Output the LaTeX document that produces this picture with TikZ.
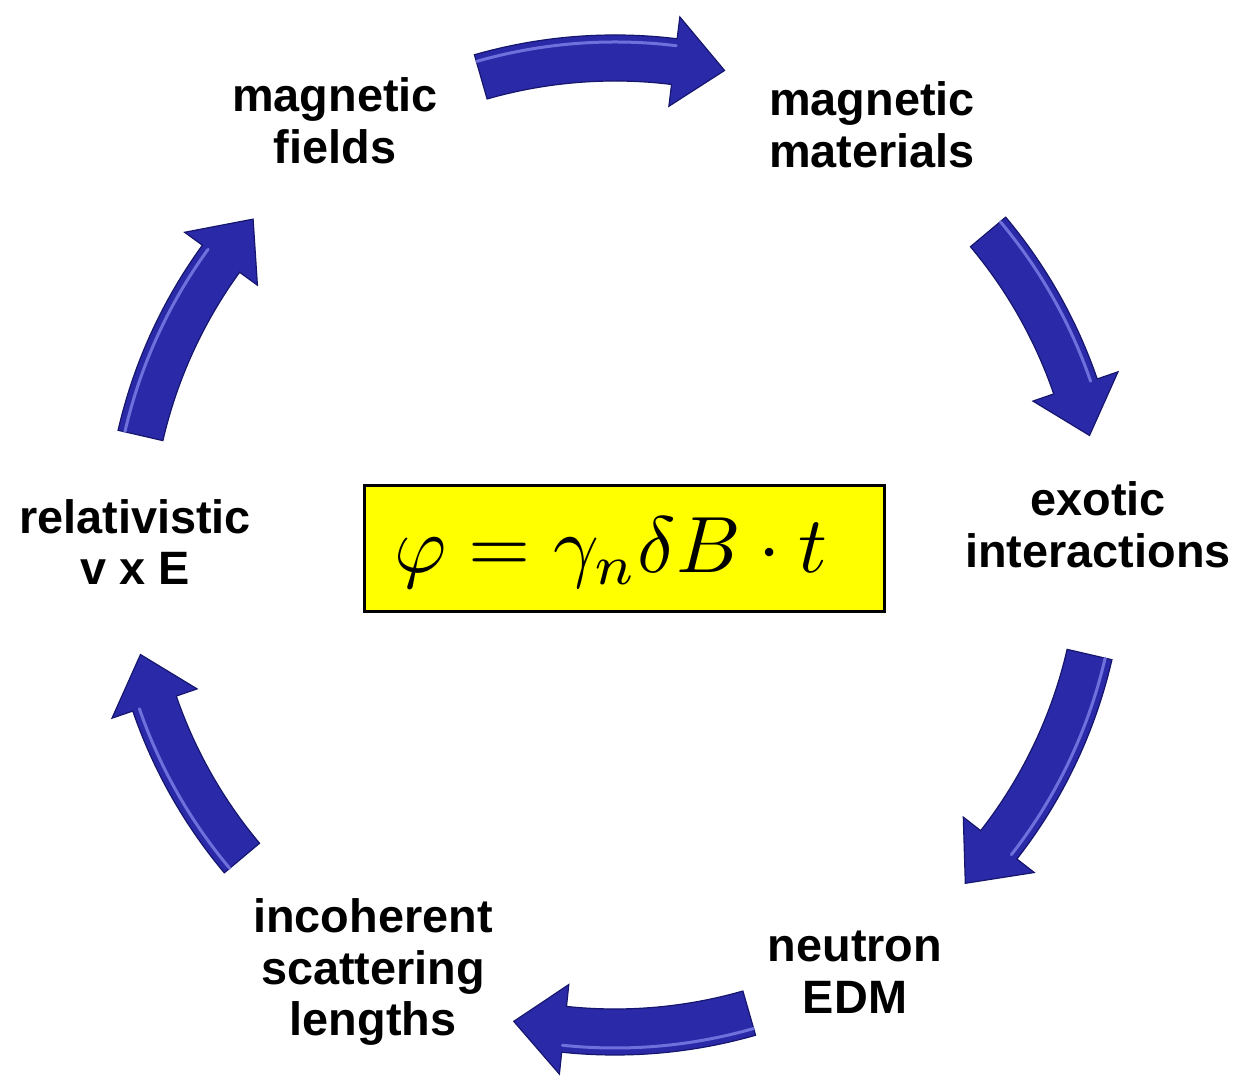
\documentclass[tikz,border=0pt]{standalone}
\usepackage{fontspec}
\usepackage{graphicx}
\setmainfont{Liberation Sans}
\definecolor{arrowfill}{RGB}{42,42,168}
\definecolor{arrowedge}{RGB}{22,22,110}
\definecolor{arrowlight}{RGB}{130,130,235}
\definecolor{boxyellow}{RGB}{255,255,0}
\tikzset{
  lbl/.style={font=\fontsize{47}{52}\selectfont\bfseries, align=center, inner sep=0pt},
  arrowbody/.style={fill=arrowfill, draw=arrowedge, line width=1.2bp, line join=miter},
  arrowshine/.style={draw=arrowlight, line width=3bp, line cap=round, opacity=0.8},
  formulabox/.style={fill=boxyellow, draw=black, line width=3bp, minimum width=521, minimum height=127, inner sep=0pt},
  formulatext/.style={inner sep=0pt}
}
\newcommand\cyclearrow[3]{%
  \path[arrowbody] (#1:510) arc[start angle=#1, end angle=#2, radius=510]
    -- (#2:532) -- (#3:487) -- (#2:442) -- (#2:464)
    arc[start angle=#2, end angle=#1, radius=464] -- cycle;
  \draw[arrowshine] (#1:503) arc[start angle=#1, end angle=#2, radius=503];
}
\newcommand\phaseformula{\resizebox{433bp}{!}{$\varphi = \gamma_n\delta B\cdot t$}}
\begin{document}
\begin{tikzpicture}[x=1bp,y=1bp]
\useasboundingbox (0,0) rectangle (1239,1079);
\begin{scope}[shift={(615,534)}]
  \cyclearrow{106}{83}{77}
  \cyclearrow{40}{19}{13}
  \cyclearrow{-13}{-38}{-44}
  \cyclearrow{-74}{-96}{-102}
  \cyclearrow{220}{199}{193}
  \cyclearrow{167}{144}{138}
\end{scope}
\node[formulabox] (formula) at (624.5,530.5) {};
\node[formulatext] (formulatxt) at (611,526) {\phaseformula};
\node[lbl] (fields) at (335,958) {magnetic\\fields};
\node[lbl] (materials) at (872,954) {magnetic\\materials};
\node[lbl] (exotic) at (1098,554) {exotic\\interactions};
\node[lbl] (relativistic) at (135,537) {relativistic\\v x E};
\node[lbl] (incoherent) at (373,107) {incoherent\\scattering\\lengths};
\node[lbl] (neutron) at (855,107) {neutron\\EDM};
\end{tikzpicture}
\end{document}
